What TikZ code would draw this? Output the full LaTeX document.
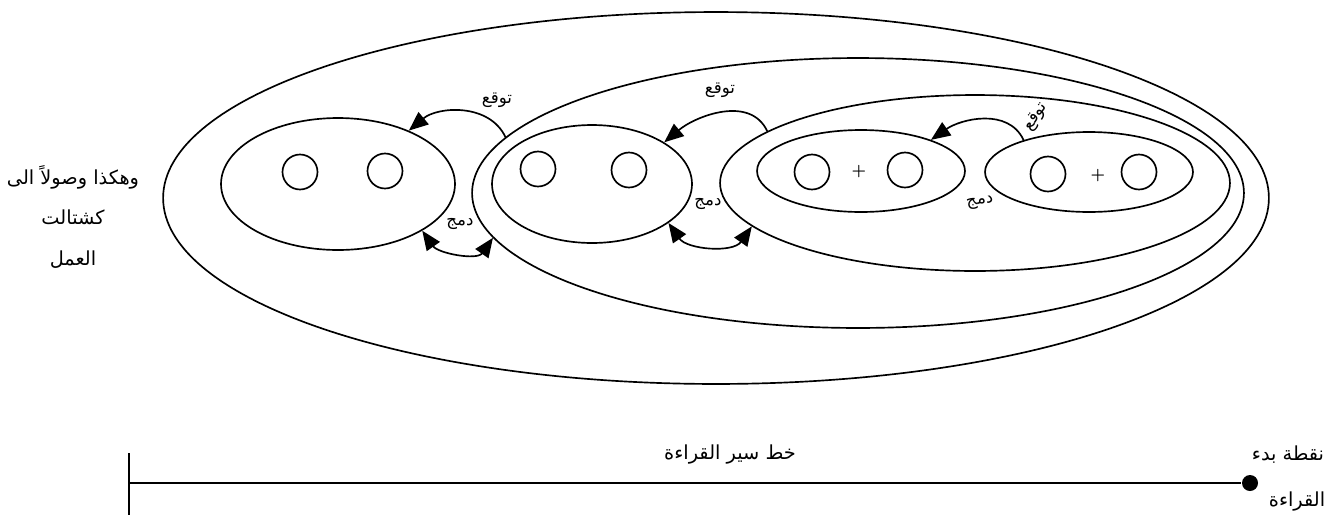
\documentclass[tikz,border=0pt]{standalone}
\usepackage{fontspec}
\usetikzlibrary{shapes.geometric,arrows.meta}
\TeXXeTstate=1
\newfontfamily\arabicfont[Script=Arabic]{DejaVu Sans}
\newcommand\artext[1]{\beginR #1\endR}
\begin{document}
\begin{tikzpicture}[x=0.02cm,y=-0.02cm,
  line width=0.95pt,
  oval/.style={ellipse,draw,inner sep=0pt},
  dot/.style={circle,draw,inner sep=0pt,minimum size=0.7cm},
  plus/.style={inner sep=0pt,font=\small\bfseries},
  lbl/.style={font=\arabicfont\fontsize{9.5}{11}\selectfont,inner sep=1pt},
  big/.style={font=\arabicfont\fontsize{11}{13}\selectfont,inner sep=1pt},
  tip/.style={-{Triangle[length=11pt,width=9pt]}},
  bitip/.style={{Triangle[length=11pt,width=9pt]}-{Triangle[length=11pt,width=9pt]}}]
\useasboundingbox (0,0) rectangle (1338,518);

% nested groupings
\node[oval,minimum width=22.12cm,minimum height=7.44cm] (O) at (716,198) {};
\node[oval,minimum width=15.44cm,minimum height=5.4cm] (E2) at (858,193) {};
\node[oval,minimum width=10.2cm,minimum height=3.52cm] (E3) at (975,183) {};

% pairs of units
\node[oval,minimum width=4.68cm,minimum height=2.64cm] (L) at (338,184) {};
\node[oval,minimum width=4.0cm,minimum height=2.36cm] (M) at (592,184) {};
\node[oval,minimum width=4.16cm,minimum height=1.64cm] (A) at (861,171) {};
\node[oval,minimum width=4.16cm,minimum height=1.6cm] (B) at (1089,172) {};

\node[dot] (L1) at (300,172) {};
\node[dot] (L2) at (385,171) {};
\node[dot] (M1) at (538,169) {};
\node[dot] (M2) at (629,170) {};
\node[dot] (A1) at (812,172) {};
\node[plus] (Ap) at (859,172) {+};
\node[dot] (A2) at (905,170) {};
\node[dot] (B1) at (1048,174) {};
\node[plus] (Bp) at (1098,176) {+};
\node[dot] (B2) at (1139,172) {};

% expectation arrows
\draw[tip] (E2.171) to[out=115,in=40] (L.37);
\draw[tip] (E3.166) to[out=115,in=40] (M.30);
\draw[tip] (B.154) to[out=115,in=35] (A.24);
% merging arrows
\draw[bitip] (L.-29) to[out=-55,in=-125] (E2.187);
\draw[bitip] (M.-27) to[out=-55,in=-125] (E3.191);

% labels
\node[lbl] (t1) at (497,100) {\artext{توقع}};
\node[lbl] (t2) at (720,90) {\artext{توقع}};
\node[lbl,rotate=55] (t3) at (1036,117) {\artext{توقع}};
\node[lbl] (d1) at (460,224) {\artext{دمج}};
\node[lbl] (d2) at (708,204) {\artext{دمج}};
\node[lbl,rotate=10] (d3) at (980,203) {\artext{دمج}};

\node[big,align=center] (side) at (73,217) {\artext{وهكذا وصولاً الى}\\[10pt]\artext{كشتالت}\\[10pt]\artext{العمل}};

% reading line
\coordinate (tickTop) at (129,453);
\coordinate (tickBot) at (129,515);
\coordinate (start) at (129,483);
\node[circle,fill,inner sep=0pt,minimum size=0.32cm] (end) at (1250,483) {};
\draw (tickTop) -- (tickBot);
\draw (start) -- (end);
\node[big] (line) at (730,455) {\artext{خط سير القراءة}};
\node[big] (s1) at (1288,455) {\artext{نقطة بدء}};
\node[big] (s2) at (1297,502) {\artext{القراءة}};
\end{tikzpicture}
\end{document}
